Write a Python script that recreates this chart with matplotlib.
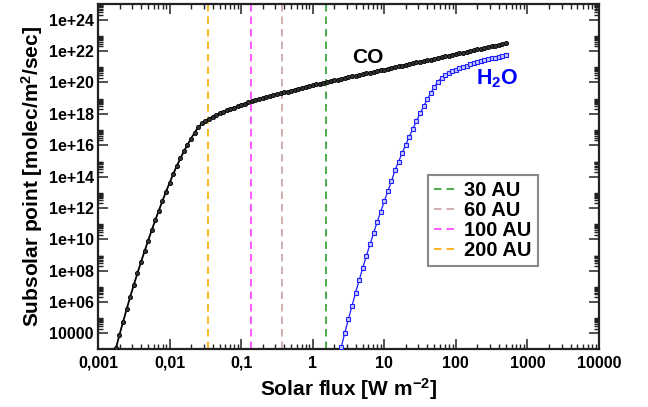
import numpy as np
import matplotlib
matplotlib.use("Agg")
import matplotlib.pyplot as plt
from matplotlib.ticker import FixedLocator, NullFormatter

plt.rcParams['font.family'] = ['Liberation Sans', 'DejaVu Sans']
plt.rcParams['font.weight'] = 'bold'
plt.rcParams['mathtext.default'] = 'regular'

# ---- data (log10 solar flux [W m-2], log10 rate [molec m-2 s-1]) ----
co_logflux = [-2.80, -2.75, -2.70, -2.65, -2.60, -2.55, -2.50, -2.45, -2.40, -2.35,
              -2.30, -2.25, -2.20, -2.15, -2.10, -2.05, -2.00, -1.95, -1.90, -1.85,
              -1.80, -1.75, -1.70, -1.65, -1.60, -1.55, -1.50, -1.45, -1.40, -1.35,
              -1.30, -1.25, -1.20, -1.15, -1.10, -1.05, -1.00, -0.95, -0.90, -0.85,
              -0.80, -0.75, -0.70, -0.65, -0.60, -0.55, -0.50, -0.45, -0.40, -0.35,
              -0.30, -0.25, -0.20, -0.15, -0.10, -0.05, 0.00, 0.05, 0.10, 0.15,
              0.20, 0.25, 0.30, 0.35, 0.40, 0.45, 0.50, 0.55, 0.60, 0.65,
              0.70, 0.75, 0.80, 0.85, 0.90, 0.95, 1.00, 1.05, 1.10, 1.15,
              1.20, 1.25, 1.30, 1.35, 1.40, 1.45, 1.50, 1.55, 1.60, 1.65,
              1.70, 1.75, 1.80, 1.85, 1.90, 1.95, 2.00, 2.05, 2.10, 2.15,
              2.20, 2.25, 2.30, 2.35, 2.40, 2.45, 2.50, 2.55, 2.60, 2.65, 2.70]
co_lograte = [2.15, 3.04, 3.90, 4.73, 5.53, 6.33, 7.08, 7.82, 8.53, 9.23,
              9.91, 10.57, 11.21, 11.83, 12.44, 13.03, 13.59, 14.15, 14.66, 15.15,
              15.60, 16.02, 16.42, 16.80, 17.13, 17.38, 17.55, 17.69, 17.81, 17.92,
              18.02, 18.12, 18.21, 18.30, 18.39, 18.47, 18.56, 18.64, 18.72, 18.79,
              18.86, 18.93, 19.00, 19.06, 19.12, 19.18, 19.24, 19.30, 19.36, 19.42,
              19.48, 19.53, 19.59, 19.65, 19.71, 19.76, 19.82, 19.87, 19.93, 19.98,
              20.03, 20.08, 20.13, 20.18, 20.23, 20.28, 20.33, 20.38, 20.43, 20.48,
              20.53, 20.58, 20.63, 20.68, 20.73, 20.78, 20.82, 20.87, 20.92, 20.97,
              21.02, 21.07, 21.12, 21.17, 21.22, 21.27, 21.31, 21.36, 21.41, 21.46,
              21.51, 21.56, 21.61, 21.66, 21.71, 21.76, 21.80, 21.85, 21.90, 21.95,
              22.00, 22.05, 22.10, 22.15, 22.20, 22.25, 22.30, 22.35, 22.40, 22.45, 22.50]

h2o_logflux = [0.35, 0.40, 0.45, 0.50, 0.55, 0.60, 0.65, 0.70, 0.75, 0.80,
               0.85, 0.90, 0.95, 1.00, 1.05, 1.10, 1.15, 1.20, 1.25, 1.30,
               1.35, 1.40, 1.45, 1.50, 1.55, 1.60, 1.65, 1.70, 1.75, 1.80,
               1.85, 1.90, 1.95, 2.00, 2.05, 2.10, 2.15, 2.20, 2.25, 2.30,
               2.35, 2.40, 2.45, 2.50, 2.55, 2.60, 2.65, 2.70]
h2o_lograte = [2.23, 3.15, 4.05, 4.93, 5.77, 6.60, 7.40, 8.18, 8.94, 9.67,
               10.38, 11.08, 11.76, 12.42, 13.07, 13.70, 14.40, 14.95, 15.50, 16.03,
               16.55, 17.05, 17.54, 18.02, 18.48, 18.92, 19.33, 19.72, 20.05, 20.30,
               20.47, 20.60, 20.71, 20.81, 20.90, 20.99, 21.07, 21.15, 21.22, 21.29,
               21.35, 21.41, 21.47, 21.53, 21.58, 21.63, 21.68, 21.73]

au_labels = ['30 AU', '60 AU', '100 AU', '200 AU']
au_flux = [1.512, 0.378, 0.136, 0.034]
au_colors = ['#2ca02c', '#c8a2a2', '#ff3cff', '#ffaa00']

xtick_vals = [1e-3, 1e-2, 1e-1, 1, 10, 100, 1000, 10000]
xtick_labels = ['0,001', '0,01', '0,1', '1', '10', '100', '1000', '10000']
ytick_vals = [1e4, 1e6, 1e8, 1e10, 1e12, 1e14, 1e16, 1e18, 1e20, 1e22, 1e24]
ytick_labels = ['10000', '1e+06', '1e+08', '1e+10', '1e+12', '1e+14', '1e+16',
                '1e+18', '1e+20', '1e+22', '1e+24']

# ---- figure ----
fig = plt.figure(figsize=(6.48, 4.07), dpi=100)
ax = fig.add_axes([98/648, 1-349/407, 501/648, 345/407])

co_x = 10**np.array(co_logflux)
co_y = 10**np.array(co_lograte)
h2o_x = 10**np.array(h2o_logflux)
h2o_y = 10**np.array(h2o_lograte)

for lab, fx, col in zip(au_labels, au_flux, au_colors):
    ax.axvline(fx, color=col, lw=1.2, ls=(0, (4.5, 3)), label=lab, zorder=1)

ax.plot(co_x, co_y, color='black', lw=1.3, marker='o', ms=3.0,
        mfc='#333333', mec='black', mew=0.6, zorder=3)
ax.plot(h2o_x, h2o_y, color='#1a1aff', lw=0.9, marker='s', ms=3.0,
        mfc='#c8c8ff', mec='#2020ff', mew=0.8, zorder=3)

ax.set_xscale('log')
ax.set_yscale('log')
ax.set_xlim(1e-3, 1e4)
ax.set_ylim(1e3, 1e25)

ax.set_xticks(xtick_vals)
ax.set_xticklabels(xtick_labels)
ax.xaxis.set_minor_locator(FixedLocator(
    [k * 10.0**e for e in range(-3, 4) for k in range(2, 10)]))
ax.xaxis.set_minor_formatter(NullFormatter())
ax.set_yticks(ytick_vals)
ax.set_yticklabels(ytick_labels)
ax.yaxis.set_minor_locator(FixedLocator(
    [k * 10.0**e for e in range(2, 26, 2) for k in range(2, 10)]))
ax.yaxis.set_minor_formatter(NullFormatter())

ax.tick_params(which='both', direction='in', top=True, right=True,
               labelsize=11.5, color='#222222')
ax.tick_params(which='major', length=7, width=1.1)
ax.tick_params(which='minor', length=3.5, width=1.0)
ax.tick_params(axis='x', which='major', pad=5)
ax.tick_params(axis='y', which='major', pad=3)
for lab in ax.get_xticklabels() + ax.get_yticklabels():
    lab.set_fontweight('bold')
for sp in ax.spines.values():
    sp.set_linewidth(1.6)
    sp.set_color('#222222')

ax.set_xlabel('Solar flux [W m$^{-2}$]', fontsize=15, fontweight='bold', labelpad=4)
ax.set_ylabel('Subsolar point [molec/m$^2$/sec]', fontsize=15, fontweight='bold', labelpad=3)

ax.text(5.9, 10**21.24, 'CO', fontsize=15, fontweight='bold', color='black',
        ha='center', va='baseline')
ax.text(380, 10**19.86, 'H$_2$O', fontsize=15.5, fontweight='bold', color='#0000ff',
        ha='center', va='baseline')

leg = ax.legend(loc='upper left', bbox_to_anchor=(0.659, 0.504), borderaxespad=0,
                handlelength=1.0, handletextpad=0.5,
                labelspacing=0.05, borderpad=0.3, fancybox=False, framealpha=1,
                edgecolor='#888888', prop={'weight': 'bold', 'size': 14.5})
leg.get_frame().set_linewidth(1.5)

fig.savefig('out.png', dpi=100)
